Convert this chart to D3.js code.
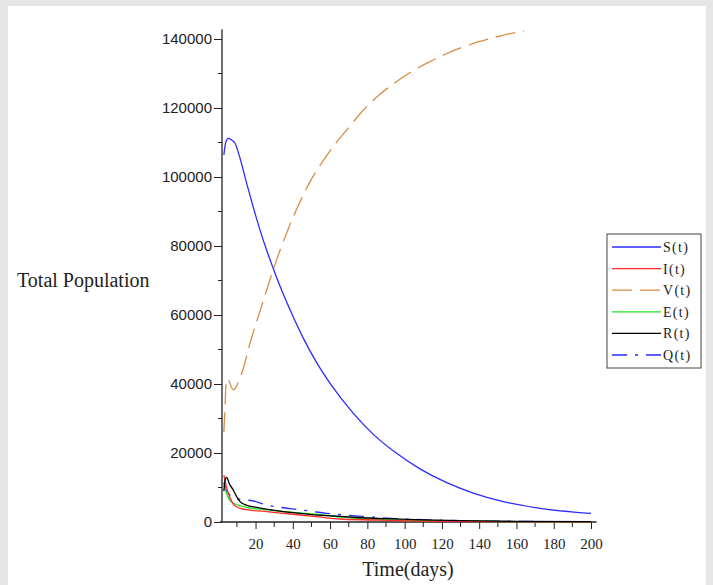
<!DOCTYPE html>
<html>
<head>
<meta charset="utf-8">
<script src="https://cdn.jsdelivr.net/npm/d3@7"></script>
<style>
  html, body { margin: 0; padding: 0; background: #e6e6e6; }
  svg { display: block; }
</style>
</head>
<body>
<div id="chart"></div>
<script>
// time (days) and population
const sSeries = [[3, 106400], [4, 110000], [5.4, 111200], [7, 110800], [9, 109800], [11.7, 105400],
  [15.3, 98000], [18.8, 91200], [22.4, 84600], [26, 78700], [29.5, 73500], [33.1, 68400],
  [38.5, 61500], [45.6, 53300], [52.8, 46200], [60, 40200], [72.5, 31500],
  [83.2, 25400], [95.7, 19900], [108.2, 15400], [122.6, 11400], [136.8, 8400], [153, 5900],
  [170.9, 4100], [192.3, 2800], [200, 2500]];
const iSeries = [[3, 13600], [4, 11000], [6.3, 7000], [8, 5200], [11.7, 3960], [18, 3400],
  [26, 3000], [35, 2500], [43.9, 2030], [55, 1400], [65, 870], [83, 580], [100, 350],
  [120, 200], [150, 100], [200, 40]];
const vSeries = [[3, 26000], [3.6, 33000], [4.3, 41000], [5, 41500], [8, 38300], [12.6, 43100],
  [17, 51800], [21.5, 59600], [26, 67300], [30.4, 74600], [36.7, 83800], [43, 91800],
  [49.2, 98600], [56.4, 104800], [62.6, 109500], [68.9, 113600], [78, 119500], [86.8, 124000],
  [95, 127400], [104.5, 130800], [113, 133300], [122.7, 135800], [131, 137600], [140.4, 139300],
  [152, 141000], [164, 142300]];
const eSeries = [[3, 11000], [4, 9000], [6, 6500], [8, 5500], [15, 4260], [25, 3600],
  [34.8, 3100], [45, 2550], [56, 2030], [66, 1450], [76, 960], [90, 650], [110, 380],
  [130, 220], [160, 110], [200, 50]];
const rSeries = [[3, 9000], [3.8, 12500], [4.5, 12950], [6, 11000], [8, 9300], [10, 7200],
  [11.7, 5900], [15, 4900], [20.6, 4260], [30, 3400], [40, 2700], [50, 2150], [61.7, 1740],
  [75, 1300], [90, 960], [110, 600], [130, 380], [160, 200], [200, 90]];
const qSeries = [[3, 11500], [4, 9500], [6.3, 7800], [8, 7000], [11.7, 6580], [18.8, 6090],
  [26, 4900], [34, 4200], [42, 3680], [50, 3100], [58, 2520], [68, 2000], [79.6, 1540],
  [95, 1000], [110, 650], [130, 380], [160, 180], [200, 80]];

const seriesNames = ["S(t)", "I(t)", "V(t)", "E(t)", "R(t)", "Q(t)"];
const seriesData = [sSeries, iSeries, vSeries, eSeries, rSeries, qSeries];
const seriesColors = ["#2b2bff", "#ff2b2b", "#d98c45", "#22e022", "#000000", "#2b2bff"];
const seriesDash = [null, null, "20,8", null, null, "15,8,3,8"];

const yTicks = [0, 20000, 40000, 60000, 80000, 100000, 120000, 140000];
const yMinor = [10000, 30000, 50000, 70000, 90000, 110000, 130000];
const xTicks = [20, 40, 60, 80, 100, 120, 140, 160, 180, 200];
const xMinor = [10, 30, 50, 70, 90, 110, 130, 150, 170, 190];

const W = 713, H = 585;
const svg = d3.select("#chart").append("svg").attr("width", W).attr("height", H);

// white page inside the grey frame
svg.append("rect").attr("x", 8).attr("y", 6).attr("width", 698).attr("height", H - 6)
  .attr("fill", "#fff");

const x = d3.scaleLinear().domain([2, 200]).range([222, 591]);
const y = d3.scaleLinear().domain([0, 140000]).range([522, 39]);

const serif = "'Liberation Serif', 'Times New Roman', serif";
const sans = "'Liberation Sans', Arial, sans-serif";

// y axis
const yAxis = svg.append("g").attr("transform", `translate(${x(2)},0)`)
  .call(d3.axisLeft(y).tickValues(yTicks).tickSize(8).tickPadding(2).tickFormat(d3.format("d")));
yAxis.select(".domain").remove();
yAxis.selectAll("text").attr("font-family", sans).attr("font-size", 15).attr("fill", "#222");
yAxis.selectAll(".tick line").attr("stroke", "#222");
yAxis.selectAll(".minor").data(yMinor).enter().append("line")
  .attr("x1", -4).attr("x2", 0).attr("y1", (d) => y(d)).attr("y2", (d) => y(d))
  .attr("stroke", "#222");
yAxis.append("line").attr("x1", 0).attr("x2", 0).attr("y1", y(0)).attr("y2", y(142800))
  .attr("stroke", "#222").attr("stroke-width", 1.3);

// x axis
const xAxis = svg.append("g").attr("transform", `translate(0,${y(0)})`)
  .call(d3.axisBottom(x).tickValues(xTicks).tickSize(7).tickPadding(9));
xAxis.select(".domain").remove();
xAxis.selectAll("text").attr("font-family", serif).attr("font-size", 15).attr("fill", "#222");
xAxis.selectAll(".tick line").attr("stroke", "#222");
xAxis.selectAll(".minor").data(xMinor).enter().append("line")
  .attr("x1", (d) => x(d)).attr("x2", (d) => x(d)).attr("y1", 0).attr("y2", 5)
  .attr("stroke", "#222");
xAxis.append("line").attr("x1", x(2) - 2).attr("x2", x(203)).attr("y1", 0).attr("y2", 0)
  .attr("stroke", "#222").attr("stroke-width", 1.3);

// curves
const line = d3.line().curve(d3.curveMonotoneX).x((d) => x(d[0])).y((d) => y(d[1]));
const order = [2, 0, 5, 3, 1, 4];
order.forEach((i) => {
  svg.append("path")
    .datum(seriesData[i])
    .attr("d", line)
    .attr("fill", "none")
    .attr("stroke", seriesColors[i])
    .attr("stroke-width", 1.3)
    .attr("stroke-dasharray", seriesDash[i]);
});

// axis titles
svg.append("text").attr("x", 17).attr("y", 287).text("Total Population")
  .attr("font-family", serif).attr("font-size", 20).attr("fill", "#222");
svg.append("text").attr("x", 408).attr("y", 576).attr("text-anchor", "middle").text("Time(days)")
  .attr("font-family", serif).attr("font-size", 20).attr("fill", "#222");

// legend
const legend = svg.append("g").attr("transform", "translate(607,234)");
legend.append("rect").attr("width", 94).attr("height", 134)
  .attr("fill", "#fff").attr("stroke", "#444");
const item = legend.selectAll(".item").data(seriesNames).enter().append("g")
  .attr("transform", (d, i) => `translate(0,${13 + i * 21.6})`);
item.append("line").attr("x1", 5).attr("x2", 54)
  .attr("stroke", (d, i) => seriesColors[i])
  .attr("stroke-width", 1.3)
  .attr("stroke-dasharray", (d, i) => seriesDash[i]);
item.append("text").attr("x", 56).attr("y", 5).text((d) => d)
  .attr("font-family", serif).attr("font-size", 14).attr("letter-spacing", 1.3)
  .attr("fill", "#222");
</script>
</body>
</html>
